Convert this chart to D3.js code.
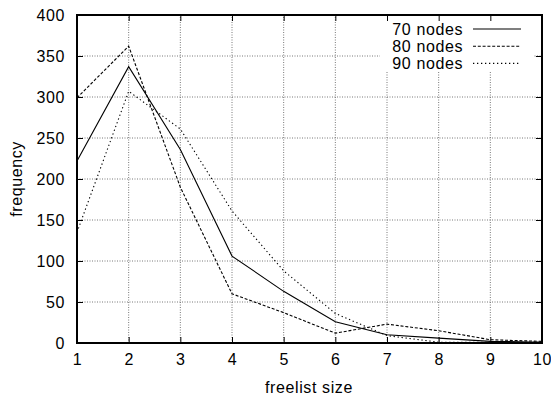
<!DOCTYPE html>
<html>
<head>
<meta charset="utf-8">
<script src="https://cdn.jsdelivr.net/npm/d3@7"></script>
<style>
  body { margin: 0; background: #fff; }
  text { font-family: "Liberation Sans", Arial, sans-serif; letter-spacing: 0.6px; }
</style>
</head>
<body>
<div id="chart"></div>
<script>
// freelist size values on the x axis
var sizes = [1, 2, 3, 4, 5, 6, 7, 8, 9, 10];
// frequency per series
var nodes70 = [222, 337, 236, 106, 63, 26, 10, 6, 2, 1];
var nodes80 = [299, 362, 190, 60, 37, 12, 23, 15, 4, 2];
var nodes90 = [135, 307, 261, 161, 88, 36, 9, 1, 1, 1];
var seriesNames = ["70 nodes", "80 nodes", "90 nodes"];
var xTicks = [1, 2, 3, 4, 5, 6, 7, 8, 9, 10];
var yTicks = [0, 50, 100, 150, 200, 250, 300, 350, 400];

var width = 551, height = 398;
var margin = {left: 77, right: 9, top: 15, bottom: 55};
var fontSize = "16px";

var svg = d3.select("#chart").append("svg")
    .attr("width", width)
    .attr("height", height);

var x = d3.scaleLinear().domain([1, 10]).range([margin.left, width - margin.right]);
var y = d3.scaleLinear().domain([0, 400]).range([height - margin.bottom, margin.top]);

var dashes = ["none", "3,1.8", "1.3,2.7"];
var allSeries = [nodes70, nodes80, nodes90];

// grid lines (dotted grey)
var grid = svg.append("g");
grid.selectAll("line.gx")
    .data(xTicks.slice(1, -1))
    .enter().append("line")
    .attr("x1", function(d) { return x(d); })
    .attr("x2", function(d) { return x(d); })
    .attr("y1", y(0))
    .attr("y2", y(400))
    .attr("stroke", "#555")
    .attr("stroke-width", 0.8)
    .attr("stroke-dasharray", "1,1.5");
grid.selectAll("line.gy")
    .data(yTicks.slice(1, -1))
    .enter().append("line")
    .attr("x1", x(1))
    .attr("x2", x(10))
    .attr("y1", function(d) { return y(d); })
    .attr("y2", function(d) { return y(d); })
    .attr("stroke", "#555")
    .attr("stroke-width", 0.8)
    .attr("stroke-dasharray", "1,1.5");

// legend box hides the grid behind it
svg.append("rect")
    .attr("x", 380)
    .attr("y", 16)
    .attr("width", 153)
    .attr("height", 55)
    .attr("fill", "#fff");

// data lines
var line = d3.line()
    .x(function(d, i) { return x(sizes[i]); })
    .y(function(d) { return y(d); });

svg.selectAll("path.series")
    .data(allSeries)
    .enter().append("path")
    .attr("class", "series")
    .attr("d", line)
    .attr("fill", "none")
    .attr("stroke", "#000")
    .attr("stroke-width", 1.1)
    .attr("stroke-dasharray", function(d, i) { return dashes[i]; });

// axes: ticks pointing inward on all four sides
var axisB = d3.axisBottom(x).tickValues(xTicks).tickSizeInner(-6).tickSizeOuter(0).tickPadding(11);
var axisT = d3.axisTop(x).tickValues(xTicks).tickSizeInner(-6).tickSizeOuter(0).tickFormat("");
var axisL = d3.axisLeft(y).tickValues(yTicks).tickSizeInner(-6).tickSizeOuter(0).tickPadding(12);
var axisR = d3.axisRight(y).tickValues(yTicks).tickSizeInner(-6).tickSizeOuter(0).tickFormat("");

function styleAxis(g) {
    g.select(".domain").remove();
    g.selectAll(".tick line").attr("stroke", "#000").attr("stroke-width", 1);
    g.selectAll("text")
        .attr("font-size", fontSize)
        .attr("fill", "#000")
        .attr("font-family", "Liberation Sans, Arial, sans-serif");
}

svg.append("g").attr("transform", "translate(0," + y(0) + ")").call(axisB).call(styleAxis);
svg.append("g").attr("transform", "translate(0," + y(400) + ")").call(axisT).call(styleAxis);
svg.append("g").attr("transform", "translate(" + x(1) + ",0)").call(axisL).call(styleAxis);
svg.append("g").attr("transform", "translate(" + x(10) + ",0)").call(axisR).call(styleAxis);

// frame
svg.append("rect")
    .attr("x", x(1))
    .attr("y", y(400))
    .attr("width", x(10) - x(1))
    .attr("height", y(0) - y(400))
    .attr("fill", "none")
    .attr("stroke", "#000")
    .attr("stroke-width", 2);

// legend
var leg = svg.selectAll("g.leg")
    .data(seriesNames)
    .enter().append("g")
    .attr("class", "leg")
    .attr("transform", function(d, i) { return "translate(0," + (29 + i * 17.2) + ")"; });
leg.append("text")
    .attr("x", 463)
    .attr("y", 0)
    .attr("dy", "0.35em")
    .attr("text-anchor", "end")
    .attr("font-size", fontSize)
    .text(function(d) { return d; });
leg.append("line")
    .attr("x1", 473)
    .attr("x2", 521)
    .attr("y1", 0)
    .attr("y2", 0)
    .attr("stroke", "#000")
    .attr("stroke-width", 1.1)
    .attr("stroke-dasharray", function(d, i) { return dashes[i]; });

// axis labels
svg.append("text")
    .attr("x", 309)
    .attr("y", 393)
    .attr("text-anchor", "middle")
    .attr("font-size", fontSize)
    .text("freelist size");

svg.append("text")
    .attr("transform", "translate(22," + 179 + ") rotate(-90)")
    .attr("text-anchor", "middle")
    .attr("font-size", fontSize)
    .text("frequency");
</script>
</body>
</html>
